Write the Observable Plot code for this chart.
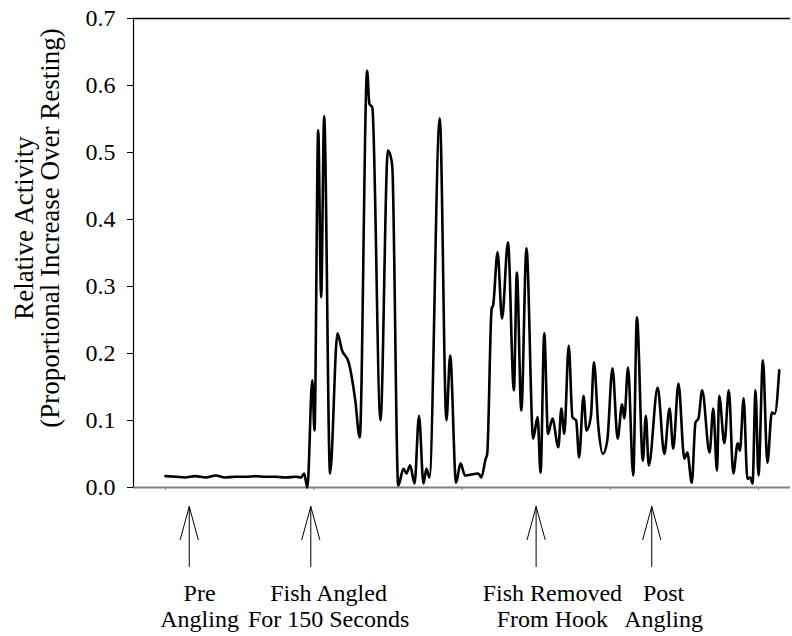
<!DOCTYPE html>
<html>
<head>
<meta charset="utf-8">
<script src="https://cdn.jsdelivr.net/npm/d3@7"></script>
<script src="https://cdn.jsdelivr.net/npm/@observablehq/plot@0.6"></script>
<style>
  html, body { margin: 0; padding: 0; background: #fff; }
  #chart { width: 792px; height: 636px; }
  #chart svg, #chart svg text { font-family: "Liberation Serif", "Times New Roman", Times, serif !important; }
</style>
</head>
<body>
<div id="chart"></div>
<script>
// Time since start of recording (seconds) and relative activity
const seconds = [
  0, 7, 13, 20, 27, 34, 40, 47, 54, 61, 67, 74, 81, 88, 91.5, 93.5, 95.7,
  99, 100.5, 103, 105, 107, 111, 116, 119, 123.5, 128, 131, 136, 137.5, 139.5,
  145, 150, 152, 153, 157, 160.5, 162.5, 165, 168, 171, 174, 176, 178, 185,
  189.5, 192, 196, 199, 202, 211, 213, 216, 217, 220, 221, 224, 227, 231, 235,
  237, 240, 243.5, 248, 251, 253, 255.5, 258, 261, 265, 267, 269, 272, 274.5,
  277, 279, 282, 284, 287, 289, 292, 295, 298, 301.5, 305, 308, 309.5, 312,
  315.5, 318, 322, 324, 326, 332, 336.5, 340, 342.5, 346, 350, 352, 355, 357.5,
  359.5, 362, 367, 369.5, 372, 373.5, 377, 380, 383, 386, 387.5, 390, 392.5,
  394.5, 396, 398, 400, 403, 406, 409, 411, 414
];
const activity = [
  0.017, 0.016, 0.015, 0.017, 0.015, 0.018, 0.015, 0.016, 0.016, 0.017, 0.016, 0.016, 0.015, 0.016, 0.015, 0.021, 0.0,
  0.16, 0.085, 0.533, 0.284, 0.554, 0.021, 0.23, 0.205, 0.187, 0.13, 0.075, 0.622, 0.573, 0.567,
  0.10, 0.503, 0.493, 0.478, 0.003, 0.028, 0.021, 0.033, 0.006, 0.107, 0.006, 0.028, 0.015, 0.551,
  0.10, 0.197, 0.007, 0.036, 0.018, 0.021, 0.015, 0.043, 0.05, 0.267, 0.272, 0.351, 0.252, 0.366, 0.145,
  0.321, 0.115, 0.357, 0.073, 0.105, 0.022, 0.23, 0.08, 0.103, 0.06, 0.118, 0.08, 0.212, 0.105,
  0.10, 0.045, 0.137, 0.085, 0.107, 0.187, 0.09, 0.05, 0.07, 0.178, 0.073, 0.124, 0.103, 0.179,
  0.018, 0.254, 0.04, 0.107, 0.033, 0.149, 0.05, 0.118, 0.058, 0.155, 0.043, 0.052, 0.007, 0.097,
  0.103, 0.145, 0.052, 0.118, 0.025, 0.137, 0.066, 0.145, 0.021, 0.066, 0.055, 0.133, 0.013,
  0.015, 0.006, 0.145, 0.018, 0.19, 0.037, 0.112, 0.11, 0.175
];

// Event annotations
const eventTimes = [16, 98, 250, 328];
const eventLabelTimes = [23, 110, 261, 336];
const eventLabels = ["Pre\nAngling", "Fish Angled\nFor 150 Seconds", "Fish Removed\nFrom Hook", "Post\nAngling"];

// Axes
const xDomain = [-21.6, 421.6];
const yTicks = [0, 0.1, 0.2, 0.3, 0.4, 0.5, 0.6, 0.7];
const xTicks = [0, 100, 200, 300, 400];
const yLabel = "Relative Activity\n(Proportional Increase Over Resting)";

const series = seconds.map((t, i) => ({t, v: activity[i]}));
const events = eventTimes.map((t, i) => ({t, lt: eventLabelTimes[i], label: eventLabels[i]}));

const arrowShape = {
  draw(ctx, l) {
    ctx.moveTo(0, 0);
    ctx.lineTo(0, -l);
    ctx.moveTo(-9, 33 - l);
    ctx.lineTo(0, -l);
    ctx.lineTo(9, 33 - l);
  }
};

const font = "Liberation Serif, Times New Roman, Times, serif";

const chart = Plot.plot({
  width: 792,
  height: 636,
  marginTop: 18,
  marginBottom: 149,
  marginLeft: 133,
  marginRight: 2,
  style: {fontFamily: font, fontSize: "24px", color: "black", background: "white", overflow: "visible"},
  x: {domain: xDomain, axis: null},
  y: {domain: [0, 0.7], axis: null},
  marks: [
    Plot.ruleY([yTicks[yTicks.length - 1]], {stroke: "black", strokeWidth: 1.3}),
    Plot.ruleY([0], {stroke: "#808080", strokeWidth: 2}),
    Plot.ruleX([xDomain[0]], {stroke: "black", strokeWidth: 1.2}),
    Plot.axisX({ticks: xTicks, tickSize: 3, tickFormat: () => "", label: null, stroke: "#808080", strokeWidth: 1}),
    Plot.axisY({ticks: yTicks, tickFormat: d3.format(".1f"), tickSize: 6, tickPadding: 12, label: null, fontSize: 24, stroke: "black"}),
    Plot.line(series, {x: "t", y: "v", stroke: "black", strokeWidth: 2.6, curve: "monotone-x"}),
    Plot.vector(events, {x: "t", y: () => -0.118, length: 60, anchor: "start", rotate: 0, shape: arrowShape, stroke: "black", strokeWidth: 1}),
    Plot.text(events, {x: "lt", y: () => -0.2075, text: "label", lineAnchor: "bottom", lineHeight: 1.08, fontSize: 24, fill: "black"}),
    Plot.text([yLabel], {frameAnchor: "left", textAnchor: "middle", rotate: -90, dx: -96, dy: -25, lineAnchor: "middle", lineHeight: 0.98, fontSize: 27, fill: "black"})
  ]
});
document.getElementById("chart").appendChild(chart);
</script>
</body>
</html>
